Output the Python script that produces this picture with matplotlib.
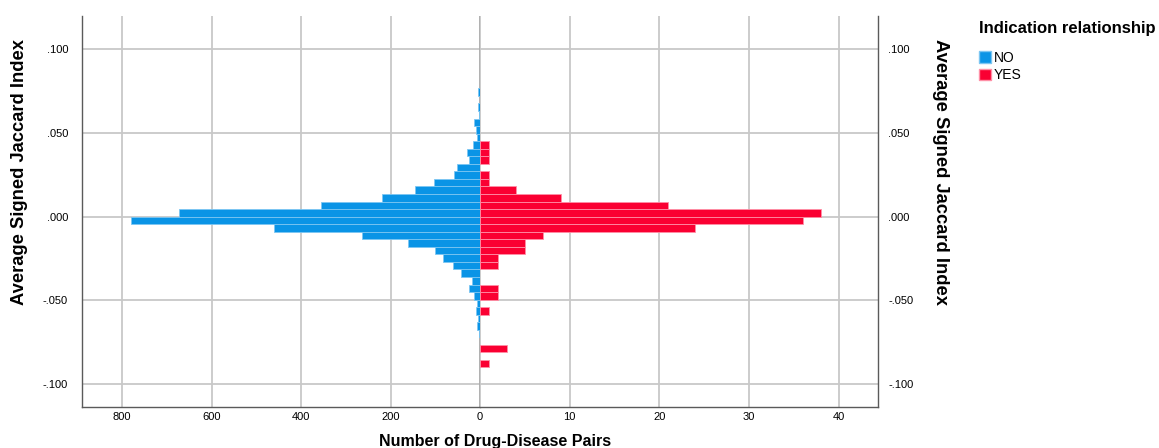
import matplotlib.pyplot as plt
import matplotlib.patches as mpatches
import numpy as np

plt.rcParams['font.family'] = ['Liberation Sans', 'DejaVu Sans']

## Bins of the average signed Jaccard index (lower edge = index * width)
bin_width = 0.0045
bin_index = list(range(26, -22, -1))

## Counts per bin, top bin first (i = 26 ... -21)
count_no = [1, 1, 1, 1, 1, 0, 0, 0, 1, 1, 4, 1, 5, 2, 13, 9, 7, 15, 28, 24,
            52, 58, 102, 146, 218, 356, 672, 780, 460, 264, 160, 100, 83, 60, 42, 17,
            25, 14, 7, 10, 5, 6, 2, 1, 1, 1, 1, 1]
count_yes = [0, 0, 0, 0, 0, 0, 0, 0, 0, 0, 0, 0, 0, 0, 0, 0, 0, 1, 1, 1,
             0, 1, 1, 4, 9, 21, 38, 36, 24, 7, 5, 5, 2, 2, 0, 0,
             2, 2, 0, 1, 0, 0, 0, 0, 3, 0, 1, 0]

y_ticks = [0.1, 0.05, 0.0, -0.05, -0.1]
y_tick_labels = ['.100', '.050', '.000', '-.050', '-.100']
no_ticks = [800, 600, 400, 200, 0]
yes_ticks = [0, 10, 20, 30, 40]

blue = '#0a94e6'
red = '#fa0032'
grid_col = '#c8c8c8'
spine_col = '#5a5a5a'

bin_low = np.array(bin_index) * bin_width

fig = plt.figure(figsize=(11.59, 4.48), dpi=100)
L, R, B, T = 82 / 1159, 878.3 / 1159, 1 - 406.7 / 448, 1 - 16 / 448
mid = 480 / 1159
ax1 = fig.add_axes([L, B, mid - L, T - B])
ax2 = fig.add_axes([mid, B, R - mid, T - B])

## only outline the bars that have a count, so empty bins leave no line at zero
lw_no = [0.6 if c > 0 else 0 for c in count_no]
lw_yes = [0.6 if c > 0 else 0 for c in count_yes]
ax1.barh(bin_low, count_no, height=bin_width, align='edge', color=blue,
         edgecolor='#7cc6f2', linewidth=lw_no, zorder=3)
ax2.barh(bin_low, count_yes, height=bin_width, align='edge', color=red,
         edgecolor='#ff8fa6', linewidth=lw_yes, zorder=3)

ax1.set_xlim(889.5, 0)
ax2.set_xlim(0, 44.4)
for ax in (ax1, ax2):
    ax.set_ylim(-0.1134, 0.1197)
    ax.set_yticks(y_ticks)
    ax.grid(True, color=grid_col, linewidth=1.3, zorder=0)
    ax.tick_params(length=0, labelsize=8, colors='black')
    ax.spines['top'].set_visible(False)
    for s in ax.spines.values():
        s.set_color(spine_col)
        s.set_linewidth(1.0)

ax1.set_xticks(no_ticks)
ax1.set_xticklabels([str(v) for v in no_ticks])
ax1.set_yticklabels(y_tick_labels)
ax1.spines['right'].set_visible(False)
ax1.tick_params(axis='y', pad=10)
ax1.axvline(0, color='#404040', linewidth=1.0, zorder=2)

ax2.set_xticks(yes_ticks)
ax2.set_xticklabels([''] + [str(v) for v in yes_ticks[1:]])
ax2.spines['left'].set_visible(False)
ax2.yaxis.tick_right()
ax2.set_yticklabels(y_tick_labels)
ax2.tick_params(axis='y', pad=7)

fig.text(20 / 1159, 1 - 172 / 448, 'Average Signed Jaccard Index', rotation=90,
         ha='center', va='center', fontsize=13.2, fontweight='bold')
fig.text(940 / 1159, 1 - 172 / 448, 'Average Signed Jaccard Index', rotation=-90,
         ha='center', va='center', fontsize=13.2, fontweight='bold')
fig.text(495 / 1159, 1 - 441 / 448, 'Number of Drug-Disease Pairs',
         ha='center', va='center', fontsize=11.5, fontweight='bold')

handles = [mpatches.Patch(facecolor=blue, edgecolor='#7cc6f2', label='NO'),
           mpatches.Patch(facecolor=red, edgecolor='#ff8fa6', label='YES')]
leg = fig.legend(handles=handles, loc='upper left', bbox_to_anchor=(973 / 1159, 1 - 15 / 448),
                 frameon=False, title='Indication relationship', fontsize=10,
                 title_fontproperties={'weight': 'bold', 'size': 12},
                 handlelength=0.9, handleheight=0.9, handletextpad=0.2,
                 labelspacing=0.25, borderaxespad=0, alignment='left')
leg._legend_box.sep = 11

fig.savefig('out.png', dpi=100)
